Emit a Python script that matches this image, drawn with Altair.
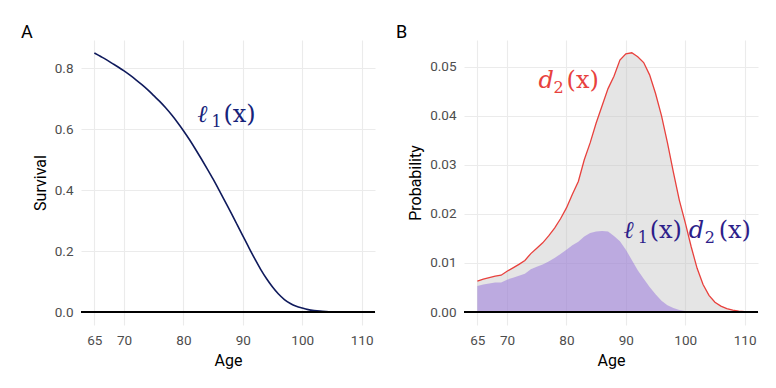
import altair as alt
import pandas as pd

# ---------------- data ----------------
ages = list(range(65, 111))

survival = [0.850, 0.839, 0.828, 0.816, 0.804, 0.791, 0.777, 0.762, 0.746, 0.729,
            0.710, 0.691, 0.670, 0.647, 0.622, 0.595, 0.566, 0.535, 0.503, 0.470,
            0.436, 0.400, 0.363, 0.326, 0.288, 0.250, 0.212, 0.175, 0.140, 0.109,
            0.082, 0.059, 0.041, 0.028, 0.019, 0.013, 0.008, 0.005, 0.003, 0.0018,
            0.001, 0.0005, 0.0003, 0.0001, 0.00005, 0.0]

d2 = [0.0063, 0.0067, 0.0070, 0.0073, 0.0075, 0.0083, 0.0090, 0.0097, 0.0105, 0.0119,
      0.0130, 0.0141, 0.0155, 0.0171, 0.0190, 0.0212, 0.0240, 0.0266, 0.0310, 0.0345,
      0.0385, 0.0420, 0.0455, 0.0480, 0.0513, 0.0526, 0.0528, 0.0520, 0.0508, 0.0483,
      0.0445, 0.0400, 0.0345, 0.0285, 0.0228, 0.0182, 0.0133, 0.0089, 0.0056, 0.0034,
      0.0020, 0.0012, 0.0007, 0.0004, 0.0002, 0.0001]

l1d2 = [0.0053, 0.0056, 0.0058, 0.0060, 0.0060, 0.0066, 0.0070, 0.0074, 0.0078, 0.0087,
        0.0092, 0.0097, 0.0103, 0.0110, 0.0118, 0.0127, 0.0136, 0.0143, 0.0154, 0.0161,
        0.0164, 0.0165, 0.0164, 0.0155, 0.0144, 0.0127, 0.0106, 0.0085, 0.0068, 0.0051,
        0.0036, 0.0023, 0.0014, 0.0008, 0.0004, 0.0002, 0.0001, 0.00004, 0.00002, 0.00001,
        0.0, 0.0, 0.0, 0.0, 0.0, 0.0]

x_ticks = [65, 70, 80, 90, 100, 110]
surv_ticks = [0.0, 0.2, 0.4, 0.6, 0.8]
prob_ticks = [0.00, 0.01, 0.02, 0.03, 0.04, 0.05]

df = pd.DataFrame({"age": ages, "l1": survival, "d2": d2, "l1d2": l1d2})

NAVY = "#0F1A5C"
NAVY_TXT = "#16237A"
RED = "#E8413D"
INDIGO = "#2D1E8A"
W, H = 294, 285
MATH_FONT = "DejaVu Serif"

x_scale = alt.Scale(domain=[62.75, 112.25], nice=False, zero=False)
x_axis = alt.Axis(values=x_ticks, format="d", title="Age")
x_enc = alt.X("age:Q", scale=x_scale, axis=x_axis)


def math_label(age, val, pieces, color, y_scale, y_axis):
    """pieces: list of (text, dx, dy, size, style) drawn at one data anchor."""
    layers = []
    anchor = pd.DataFrame({"age": [age], "v": [val]})
    for txt, dx, dy, size, style in pieces:
        layers.append(
            alt.Chart(anchor).mark_text(
                font=MATH_FONT, fontSize=size, fontStyle=style, color=color,
                align="left", baseline="alphabetic", dx=dx, dy=dy, text=txt
            ).encode(
                x=alt.X("age:Q", scale=x_scale, axis=x_axis),
                y=alt.Y("v:Q", scale=y_scale, axis=y_axis),
            )
        )
    return layers


# ---------------- Panel A ----------------
ya_scale = alt.Scale(domain=[-0.0425, 0.8925], nice=False, zero=False)
ya_axis = alt.Axis(values=surv_ticks, format=".1f", title="Survival")

lineA = alt.Chart(df).mark_line(color=NAVY, strokeWidth=1.6, interpolate="monotone").encode(
    x=x_enc, y=alt.Y("l1:Q", scale=ya_scale, axis=ya_axis))
ruleA = alt.Chart(df).mark_rule(color="black", strokeWidth=2).encode(
    y=alt.datum(0, scale=ya_scale))
textA = math_label(82.36, 0.623,
                   [("ℓ", 0, 0, 24, "italic"), ("1", 14, 5, 16, "normal"), ("(x)", 26, 0, 24, "normal")],
                   NAVY_TXT, ya_scale, ya_axis)
tagA = alt.Chart(pd.DataFrame({"t": ["A"]})).mark_text(
    font="Roboto", fontSize=18, color="black", align="left", baseline="alphabetic").encode(
    x=alt.value(-60), y=alt.value(-2), text="t:N")

panelA = alt.layer(lineA, ruleA, *textA, tagA).properties(width=W, height=H)

# ---------------- Panel B ----------------
yb_scale = alt.Scale(domain=[-0.00264, 0.0554], nice=False, zero=False)
yb_axis = alt.Axis(values=prob_ticks, format=".2f", title="Probability")

areaD2 = alt.Chart(df).mark_area(color="#BEBEBE", opacity=0.4).encode(
    x=x_enc, y=alt.Y("d2:Q", scale=yb_scale, axis=yb_axis), y2=alt.datum(0))
areaL = alt.Chart(df).mark_area(color="#9370DB", opacity=0.5).encode(
    x=x_enc, y=alt.Y("l1d2:Q", scale=yb_scale, axis=yb_axis), y2=alt.datum(0))
lineD2 = alt.Chart(df).mark_line(color=RED, strokeWidth=1.3).encode(
    x=x_enc, y=alt.Y("d2:Q", scale=yb_scale, axis=yb_axis))
ruleB = alt.Chart(df).mark_rule(color="black", strokeWidth=2).encode(
    y=alt.datum(0, scale=yb_scale))
textD2 = math_label(75.3, 0.0457,
                    [("d", 0, 0, 24, "italic"), ("2", 15, 5, 16, "normal"), ("(x)", 28, 0, 24, "normal")],
                    RED, yb_scale, yb_axis)
textL = math_label(89.63, 0.0150,
                   [("ℓ", 0, 0, 24, "italic"), ("1", 14, 5, 16, "normal"), ("(x)", 26, 0, 24, "normal"),
                    ("d", 65, 0, 24, "italic"), ("2", 81, 5, 16, "normal"), ("(x)", 95, 0, 24, "normal")],
                   INDIGO, yb_scale, yb_axis)
tagB = alt.Chart(pd.DataFrame({"t": ["B"]})).mark_text(
    font="Roboto", fontSize=18, color="black", align="left", baseline="alphabetic").encode(
    x=alt.value(-68), y=alt.value(-2), text="t:N")

panelB = alt.layer(areaD2, areaL, lineD2, ruleB, *textD2, *textL, tagB).properties(width=W, height=H)

chart = alt.hconcat(panelA, panelB, spacing=20).properties(
    padding={"left": 13, "top": 16, "right": 5, "bottom": 5}
).configure_view(stroke=None).configure_axis(
    labelFont="Roboto", labelFontSize=13.5, labelColor="#4D4D4D",
    titleFont="Roboto", titleFontSize=16, titleColor="black", titleFontWeight="normal",
    domain=False, ticks=False, labelPadding=8, titlePadding=6,
    gridColor="#EBEBEB", gridWidth=1.1
).configure_axisX(labelFlush=False)

chart.save("out.html", embed_options={"renderer": "svg", "actions": False})
